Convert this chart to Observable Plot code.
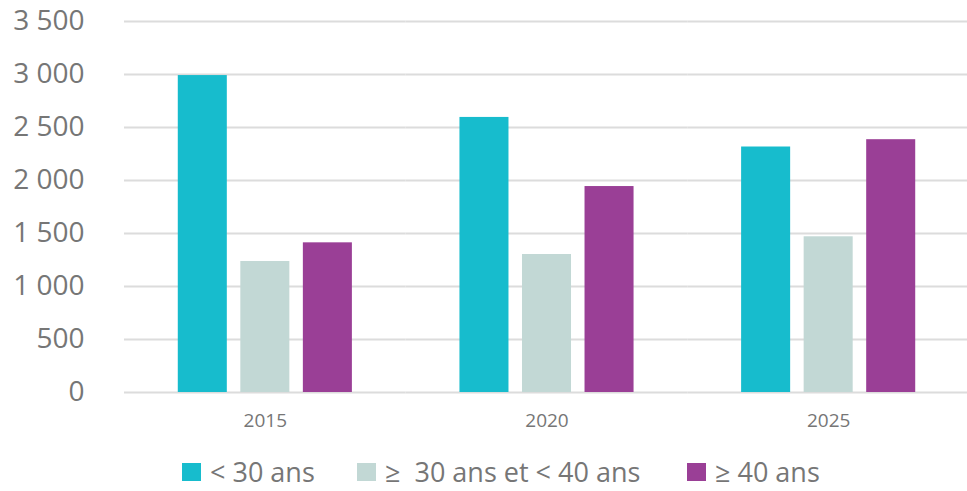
<!DOCTYPE html>
<html>
<head>
<meta charset="utf-8">
<script src="https://cdn.jsdelivr.net/npm/d3@7"></script>
<script src="https://cdn.jsdelivr.net/npm/@observablehq/plot@0.6"></script>
<style>
  html, body { margin: 0; padding: 0; background: #fff; overflow: hidden; }
  #wrap { position: relative; width: 967px; height: 491px; font-family: "Open Sans", sans-serif; }
  #legend { position: absolute; top: 457px; left: 0; width: 967px; height: 30px; }
  .item { position: absolute; top: 0; display: flex; align-items: center; height: 30px; white-space: pre; }
  .sw { width: 19px; height: 18px; margin-right: 9px; flex: none; }
  .lab { font-size: 27px; line-height: 30px; color: #767676; }
</style>
</head>
<body>
<div id="wrap"><div id="chart"></div><div id="legend"></div></div>
<script>
const years = ["2015", "2020", "2025"];
const seriesNames = ["< 30 ans", "≥  30 ans et < 40 ans", "≥ 40 ans"];
const under30 = [2990, 2595, 2316];
const from30to40 = [1236, 1302, 1469];
const over40 = [1412, 1943, 2385];
const colors = ["#17bccd", "#c2d8d5", "#9a3f96"];
const yTicks = [0, 500, 1000, 1500, 2000, 2500, 3000, 3500];

const seriesValues = [under30, from30to40, over40];
const data = [];
years.forEach((y, i) => {
  seriesNames.forEach((s, j) => data.push({year: y, series: s, value: seriesValues[j][i]}));
});

const fr = d3.formatLocale({decimal: ",", thousands: " ", grouping: [3], currency: ["", " €"]}).format(",");

const chart = Plot.plot({
  width: 967,
  height: 440,
  marginLeft: 124,
  marginRight: -2,
  marginTop: 21,
  marginBottom: 48,
  style: {fontFamily: "'Open Sans', sans-serif", background: "#fff"},
  fx: {domain: years, padding: 0, label: null, tickSize: 0, tickPadding: 21, round: false},
  x: {domain: seriesNames, paddingInner: 0.216, paddingOuter: 0.86, axis: null, round: false},
  y: {domain: [0, 3500], ticks: yTicks, tickFormat: fr, tickSize: 0, tickPadding: 40, label: null},
  color: {domain: seriesNames, range: colors},
  facet: {data: data, x: "year", marginBottom: 48},
  marks: [
    Plot.ruleY(yTicks, {stroke: "#dcdcdc", strokeWidth: 2}),
    Plot.barY(data, {x: "series", y: "value", fill: "series"})
  ]
});
document.getElementById("chart").appendChild(chart);

d3.select(chart).selectAll("g[aria-label='y-axis'] text, g[aria-label='y-axis tick label'] text").attr("font-size", 28).attr("fill", "#767676");
d3.select(chart).selectAll("g[aria-label='fx-axis'] text, g[aria-label='fx-axis tick label'] text").attr("font-size", 19).attr("fill", "#767676");

const legendLeft = [182, 357, 687];
const legend = d3.select("#legend");
seriesNames.forEach((s, i) => {
  const it = legend.append("div").attr("class", "item").style("left", legendLeft[i] + "px");
  it.append("div").attr("class", "sw").style("background", colors[i]);
  it.append("span").attr("class", "lab").text(s);
});
</script>
</body>
</html>
